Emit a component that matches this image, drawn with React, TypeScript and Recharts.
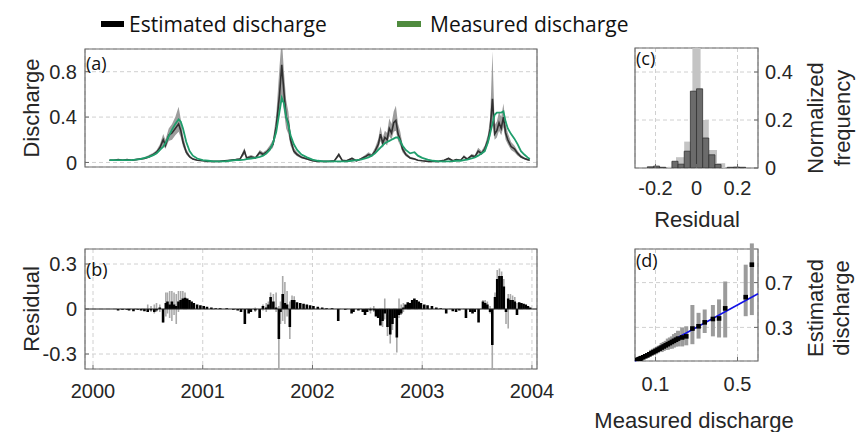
import React from 'react';
import {
  ComposedChart, Line, Area, Bar, Scatter, ErrorBar, XAxis, YAxis,
  CartesianGrid, ReferenceLine, ReferenceArea, Rectangle,
} from 'recharts';

// (a) discharge time series, time in decimal years
const timeA = [
  2000.15, 2000.19, 2000.23, 2000.27, 2000.31, 2000.35, 2000.39, 2000.43, 2000.47, 2000.51,
  2000.55, 2000.58, 2000.61, 2000.64, 2000.66, 2000.69, 2000.72, 2000.75, 2000.78, 2000.80,
  2000.82, 2000.85, 2000.88, 2000.91, 2000.95, 2001.00, 2001.05, 2001.10, 2001.15, 2001.20,
  2001.25, 2001.30, 2001.34, 2001.38, 2001.40, 2001.44, 2001.48, 2001.52, 2001.55, 2001.58,
  2001.61, 2001.64, 2001.67, 2001.70, 2001.72, 2001.74, 2001.76, 2001.78, 2001.80, 2001.83,
  2001.86, 2001.90, 2001.95, 2002.00, 2002.05, 2002.10, 2002.15, 2002.20, 2002.24, 2002.27,
  2002.31, 2002.36, 2002.40, 2002.44, 2002.48, 2002.51, 2002.54, 2002.57, 2002.60, 2002.62,
  2002.64, 2002.66, 2002.68, 2002.70, 2002.72, 2002.74, 2002.76, 2002.78, 2002.80, 2002.82,
  2002.85, 2002.89, 2002.93, 2002.96, 2003.00, 2003.05, 2003.10, 2003.15, 2003.20, 2003.24,
  2003.28, 2003.31, 2003.35, 2003.38, 2003.41, 2003.45, 2003.48, 2003.51, 2003.54, 2003.57,
  2003.60, 2003.62, 2003.64, 2003.66, 2003.68, 2003.70, 2003.72, 2003.74, 2003.76, 2003.78,
  2003.81, 2003.84, 2003.87, 2003.90, 2003.93, 2003.96, 2003.98,
];
const estimated = [
  0.02, 0.02, 0.025, 0.02, 0.025, 0.02, 0.025, 0.03, 0.035, 0.05,
  0.07, 0.09, 0.13, 0.2, 0.15, 0.24, 0.26, 0.3, 0.34, 0.28,
  0.18, 0.09, 0.05, 0.03, 0.02, 0.015, 0.01, 0.01, 0.01, 0.015,
  0.02, 0.025, 0.03, 0.1, 0.04, 0.05, 0.04, 0.09, 0.07, 0.09,
  0.12, 0.16, 0.32, 0.6, 0.86, 0.62, 0.4, 0.35, 0.2, 0.1,
  0.07, 0.045, 0.03, 0.015, 0.01, 0.01, 0.01, 0.015, 0.07, 0.02,
  0.015, 0.035, 0.015, 0.03, 0.05, 0.07, 0.06, 0.1, 0.16, 0.25,
  0.17, 0.22, 0.2, 0.3, 0.26, 0.35, 0.37, 0.25, 0.2, 0.12,
  0.07, 0.04, 0.03, 0.02, 0.015, 0.01, 0.01, 0.01, 0.02, 0.035,
  0.015, 0.025, 0.02, 0.05, 0.03, 0.06, 0.05, 0.1, 0.08, 0.12,
  0.2, 0.3, 0.56, 0.25, 0.28, 0.35, 0.3, 0.4, 0.26, 0.2,
  0.14, 0.12, 0.08, 0.05, 0.035, 0.025, 0.02,
];
const measured = [
  0.02, 0.02, 0.02, 0.02, 0.02, 0.02, 0.025, 0.03, 0.04, 0.05,
  0.065, 0.08, 0.11, 0.14, 0.17, 0.23, 0.29, 0.34, 0.38, 0.36,
  0.3, 0.18, 0.1, 0.06, 0.035, 0.02, 0.015, 0.01, 0.01, 0.01,
  0.015, 0.02, 0.02, 0.025, 0.03, 0.035, 0.04, 0.05, 0.06, 0.08,
  0.11, 0.17, 0.27, 0.45, 0.57, 0.52, 0.4, 0.33, 0.24, 0.16,
  0.11, 0.07, 0.045, 0.025, 0.015, 0.01, 0.01, 0.01, 0.01, 0.01,
  0.01, 0.015, 0.02, 0.025, 0.035, 0.045, 0.06, 0.08, 0.11, 0.13,
  0.15, 0.17, 0.18, 0.19, 0.2, 0.21, 0.22, 0.22, 0.19, 0.15,
  0.11, 0.08, 0.09, 0.06, 0.04, 0.025, 0.015, 0.01, 0.01, 0.01,
  0.012, 0.015, 0.015, 0.02, 0.025, 0.035, 0.045, 0.06, 0.08, 0.1,
  0.18, 0.26, 0.34, 0.42, 0.44, 0.44, 0.44, 0.45, 0.36, 0.3,
  0.25, 0.21, 0.16, 0.1, 0.07, 0.045, 0.03,
];
const bandLow = [
  0.015, 0.015, 0.02, 0.015, 0.02, 0.015, 0.02, 0.025, 0.03, 0.04,
  0.06, 0.075, 0.1, 0.15, 0.12, 0.19, 0.2, 0.24, 0.27, 0.22,
  0.14, 0.07, 0.04, 0.025, 0.015, 0.01, 0.008, 0.008, 0.008, 0.01,
  0.015, 0.02, 0.025, 0.07, 0.03, 0.04, 0.03, 0.07, 0.055, 0.07,
  0.1, 0.13, 0.25, 0.45, 0.6, 0.45, 0.3, 0.25, 0.15, 0.08,
  0.055, 0.035, 0.025, 0.01, 0.008, 0.008, 0.008, 0.01, 0.05, 0.015,
  0.01, 0.025, 0.01, 0.025, 0.04, 0.055, 0.05, 0.08, 0.12, 0.19,
  0.13, 0.17, 0.15, 0.23, 0.2, 0.27, 0.28, 0.19, 0.15, 0.09,
  0.055, 0.03, 0.025, 0.015, 0.01, 0.008, 0.008, 0.008, 0.015, 0.025,
  0.01, 0.02, 0.015, 0.04, 0.025, 0.045, 0.04, 0.08, 0.065, 0.095,
  0.16, 0.23, 0.38, 0.2, 0.22, 0.28, 0.24, 0.31, 0.2, 0.16,
  0.11, 0.09, 0.06, 0.04, 0.028, 0.02, 0.015,
];
const bandHigh = [
  0.025, 0.025, 0.03, 0.025, 0.03, 0.025, 0.03, 0.04, 0.045, 0.065,
  0.085, 0.11, 0.16, 0.25, 0.2, 0.3, 0.34, 0.4, 0.49, 0.38,
  0.24, 0.12, 0.065, 0.04, 0.025, 0.02, 0.013, 0.013, 0.013, 0.02,
  0.025, 0.03, 0.04, 0.13, 0.05, 0.065, 0.05, 0.11, 0.09, 0.11,
  0.15, 0.2, 0.42, 0.85, 1.1, 0.8, 0.55, 0.45, 0.27, 0.13,
  0.09, 0.055, 0.04, 0.02, 0.013, 0.013, 0.013, 0.02, 0.085, 0.025,
  0.02, 0.045, 0.02, 0.04, 0.065, 0.09, 0.075, 0.13, 0.21, 0.32,
  0.22, 0.28, 0.26, 0.39, 0.34, 0.45, 0.5, 0.34, 0.27, 0.16,
  0.09, 0.05, 0.04, 0.025, 0.02, 0.013, 0.013, 0.013, 0.025, 0.045,
  0.02, 0.03, 0.025, 0.065, 0.04, 0.075, 0.065, 0.13, 0.1, 0.15,
  0.25, 0.4, 0.98, 0.33, 0.36, 0.45, 0.4, 0.52, 0.34, 0.26,
  0.18, 0.15, 0.1, 0.065, 0.045, 0.032, 0.025,
];

// (b) residuals with their uncertainty range (null = no range drawn)
const timeB = [
  2000.23, 2000.27, 2000.31, 2000.33, 2000.37, 2000.41, 2000.44, 2000.47, 2000.5, 2000.53,
  2000.56, 2000.58, 2000.61, 2000.64, 2000.665, 2000.68, 2000.7, 2000.72, 2000.74, 2000.76,
  2000.78, 2000.8, 2000.82, 2000.84, 2000.86, 2000.88, 2000.9, 2000.92, 2000.95, 2000.98,
  2001.01, 2001.04, 2001.08, 2001.12, 2001.16, 2001.22, 2001.28, 2001.32, 2001.35, 2001.385,
  2001.42, 2001.44, 2001.48, 2001.52, 2001.55, 2001.58, 2001.6, 2001.62, 2001.645, 2001.67,
  2001.695, 2001.71, 2001.73, 2001.75, 2001.77, 2001.795, 2001.815, 2001.835, 2001.86, 2001.89,
  2001.92, 2001.95, 2001.98, 2002.01, 2002.05, 2002.09, 2002.13, 2002.18, 2002.236, 2002.3,
  2002.358, 2002.375, 2002.42, 2002.46, 2002.48, 2002.5, 2002.53, 2002.56, 2002.58, 2002.6,
  2002.62, 2002.64, 2002.66, 2002.685, 2002.71, 2002.73, 2002.75, 2002.77, 2002.79, 2002.81,
  2002.83, 2002.85, 2002.87, 2002.89, 2002.91, 2002.93, 2002.95, 2002.97, 2002.99, 2003.02,
  2003.05, 2003.09, 2003.13, 2003.17, 2003.22, 2003.28, 2003.31, 2003.34, 2003.4, 2003.44,
  2003.46, 2003.48, 2003.515, 2003.555, 2003.575, 2003.595, 2003.62, 2003.64, 2003.665, 2003.685,
  2003.705, 2003.725, 2003.745, 2003.765, 2003.785, 2003.805, 2003.825, 2003.845, 2003.865, 2003.885,
  2003.905, 2003.925, 2003.945, 2003.965, 2003.985,
];
const residual = [
  -0.01, -0.005, -0.005, -0.01, -0.015, -0.005, -0.01, -0.015, -0.02, -0.01,
  -0.02, -0.01, 0.01, -0.09, 0.04, 0.05, 0.03, 0.05, 0.03, 0.02,
  0.05, 0.06, 0.07, 0.075, 0.07, 0.06, 0.05, 0.04, 0.03, 0.025,
  0.02, 0.015, 0.01, 0.005, 0.005, 0.005, -0.005, -0.01, -0.02, -0.1,
  -0.03, -0.02, -0.01, -0.06, 0.02, 0.01, 0.03, 0.08, 0.05, 0.01,
  -0.2, -0.02, 0.1, 0.04, 0.03, -0.12, 0.06, 0.06, 0.045, 0.04,
  0.035, 0.03, 0.025, 0.02, 0.015, 0.01, 0.005, 0.005, -0.08, -0.005,
  -0.03, -0.02, -0.01, -0.02, -0.04, -0.02, -0.01, -0.01, -0.05, -0.06,
  -0.11, -0.08, -0.03, -0.12, -0.17, -0.1, -0.06, -0.19, -0.04, -0.03,
  0.01, 0.03, 0.045, 0.04, 0.06, 0.07, 0.06, 0.05, 0.04, 0.03,
  0.025, 0.02, 0.01, 0.005, -0.03, -0.015, -0.02, -0.01, -0.06, -0.02,
  -0.03, -0.02, -0.09, 0.05, 0.04, 0.03, -0.02, -0.24, 0.08, 0.2,
  0.22, 0.22, 0.15, -0.02, 0.07, 0.06, 0.06, 0.05, -0.04, 0.045,
  0.04, 0.035, 0.03, 0.02, 0.01,
];
const residualLow = [
  null, null, null, null, null, null, null, null, -0.02, -0.02,
  -0.03, -0.02, -0.02, -0.09, -0.05, -0.03, -0.06, -0.08, -0.04, -0.1,
  -0.02, 0, 0.02, 0.03, null, null, null, null, null, null,
  null, null, null, null, null, null, null, null, null, null,
  null, null, -0.02, null, -0.01, -0.02, 0, 0.04, 0, -0.02,
  -0.42, -0.1, -0.08, -0.1, -0.05, -0.2, 0.02, 0.03, null, null,
  null, null, null, null, null, null, null, null, null, null,
  null, null, null, null, null, null, -0.03, -0.02, null, null,
  null, -0.12, -0.07, -0.18, -0.23, -0.14, null, -0.29, -0.06, -0.04,
  -0.02, null, null, null, null, null, null, null, null, null,
  null, null, null, null, null, null, null, null, null, null,
  null, null, null, 0.02, 0.01, 0, -0.03, -0.42, 0.02, 0.12,
  0.15, 0.1, 0.05, -0.1, -0.13, 0.01, 0.02, 0.02, -0.04, null,
  null, null, null, null, null,
];
const residualHigh = [
  null, null, null, null, null, null, null, null, 0.03, 0.02,
  0.03, 0.04, 0.03, 0, 0.11, 0.11, 0.12, 0.12, 0.11, 0.1,
  0.12, 0.12, 0.12, 0.11, null, null, null, null, null, null,
  null, null, null, null, null, null, null, null, null, null,
  null, null, 0.01, null, 0.03, 0.04, 0.05, 0.11, 0.1, 0.11,
  0.02, 0.05, 0.22, 0.18, 0.12, 0.05, 0.09, 0.085, null, null,
  null, null, null, null, null, null, null, null, null, null,
  null, null, null, null, null, null, 0.01, 0.02, null, null,
  null, -0.04, 0.07, -0.04, -0.05, 0, null, -0.05, 0.07, 0.03,
  0.04, null, null, null, null, null, null, null, null, null,
  null, null, null, null, null, null, null, null, null, null,
  null, null, null, 0.06, 0.06, 0.05, 0.02, -0.02, 0.11, 0.26,
  0.27, 0.25, 0.2, 0, 0.1, 0.1, 0.09, 0.08, 0.04, null,
  null, null, null, null, null,
];

// (c) residual histograms
const binsDark = [-0.225, -0.195, -0.165, -0.105, -0.075, -0.045, -0.015, 0.015, 0.045, 0.075, 0.105, 0.165, 0.195, 0.225];
const freqDark = [0.005, 0.008, 0.003, 0.028, 0.016, 0.07, 0.32, 0.33, 0.125, 0.055, 0.015, 0.003, 0.004, 0.003];
const binsLight = [-0.12, -0.08, -0.04, 0, 0.04, 0.08, 0.12];
const freqLight = [0.005, 0.045, 0.11, 0.62, 0.2, 0.075, 0.02];

// (d) measured vs estimated discharge
const measuredD = [
  0.005, 0.01, 0.015, 0.02, 0.025, 0.03, 0.04, 0.05, 0.06, 0.07,
  0.08, 0.09, 0.1, 0.11, 0.12, 0.13, 0.14, 0.15, 0.16, 0.17,
  0.18, 0.19, 0.2, 0.21, 0.23, 0.25, 0.28, 0.31, 0.34, 0.38,
  0.41, 0.44, 0.54, 0.57,
];
const estimatedD = [
  0.004, 0.008, 0.012, 0.016, 0.02, 0.025, 0.033, 0.042, 0.05, 0.06,
  0.07, 0.08, 0.09, 0.1, 0.11, 0.12, 0.13, 0.14, 0.15, 0.16,
  0.17, 0.18, 0.19, 0.2, 0.21, 0.22, 0.29, 0.31, 0.345, 0.375,
  0.38, 0.47, 0.57, 0.86,
];
const lowD = [
  0.002, 0.005, 0.008, 0.01, 0.013, 0.017, 0.022, 0.03, 0.035, 0.04,
  0.05, 0.055, 0.06, 0.07, 0.08, 0.08, 0.09, 0.1, 0.1, 0.11,
  0.11, 0.12, 0.13, 0.13, 0.13, 0.14, 0.15, 0.2, 0.25, 0.22,
  0.21, 0.21, 0.4, 0.41,
];
const highD = [
  0.006, 0.012, 0.018, 0.024, 0.03, 0.035, 0.045, 0.06, 0.07, 0.08,
  0.1, 0.11, 0.12, 0.13, 0.14, 0.16, 0.17, 0.18, 0.2, 0.21,
  0.22, 0.24, 0.25, 0.27, 0.3, 0.31, 0.5, 0.43, 0.46, 0.5,
  0.55, 0.71, 0.86, 1.05,
];

const yearTicks = [2000, 2001, 2002, 2003, 2004];
const yearDomain = [1999.927, 2004.046];

const rowsA = timeA.map((t, i) => ({ t, est: estimated[i], meas: measured[i], band: [bandLow[i], bandHigh[i]] }));
const rowsB = timeB.map((t, i) => ({
  t, r: residual[i],
  range: residualLow[i] == null ? null : [residualLow[i], residualHigh[i]],
}));
const rowsC = [
  ...binsDark.map((x, i) => ({ x, dark: freqDark[i], light: null })),
  ...binsLight.map((x, i) => ({ x, dark: null, light: freqLight[i] })),
];
const rowsD = measuredD.map((x, i) => ({
  x, y: estimatedD[i], err: [estimatedD[i] - lowD[i], highD[i] - estimatedD[i]],
}));

const AX = '#6a6a6a';
const GRID = '#d0d0d0';
const TXT = '#262626';
const SANS = 'Liberation Sans, Arial, sans-serif';
const tickStyle = { fontSize: 20, fill: TXT, fontFamily: SANS };
const fmt = (v: number) => (v === 0 ? '0' : String(v));

// bar drawn with a fixed pixel width, centred on the library's slot
const fixedBar = (w: number, fill: string, key: string, stroke?: string) => (props: any) => {
  const { x, y, width, height, payload } = props;
  if (payload == null || payload[key] == null || height == null || isNaN(height)) return <g />;
  return (
    <Rectangle x={x + width / 2 - w / 2} y={y} width={w} height={height}
      fill={fill} stroke={stroke || 'none'} strokeWidth={stroke ? 0.8 : 0} />
  );
};

const mirrorX = (domain: number[], ticks: number[]) => (
  <XAxis xAxisId="top" orientation="top" type="number" domain={domain} ticks={ticks}
    allowDataOverflow tick={false} tickSize={-4} tickLine={{ stroke: AX }} axisLine={false} height={0} />
);

const App: React.FC = () => {
  return (
    <div style={{ position: 'absolute', left: 0, top: 0, width: 859, height: 432, background: '#fff', overflow: 'hidden' }}>
      {/* (a) */}
      <div style={{ position: 'absolute', left: 0, top: 40 }}>
        <ComposedChart width={545} height={140} data={rowsA} margin={{ top: 9, right: 8, bottom: 0, left: 0 }}>
          <CartesianGrid strokeDasharray="4 3" stroke={GRID} />
          <XAxis dataKey="t" type="number" domain={yearDomain} ticks={yearTicks} allowDataOverflow
            tick={false} tickSize={-4} tickLine={{ stroke: AX }} axisLine={false} height={13} />
          {mirrorX(yearDomain, yearTicks)}
          <YAxis type="number" domain={[-0.04, 1]} ticks={[0, 0.4, 0.8]} allowDataOverflow width={85}
            tick={tickStyle} tickFormatter={fmt} tickSize={-4} tickMargin={12} tickLine={{ stroke: AX }} axisLine={false} />
          <YAxis yAxisId="right" orientation="right" type="number" domain={[-0.04, 1]} ticks={[0, 0.4, 0.8]}
            allowDataOverflow width={0} tick={false} tickSize={-4} tickLine={{ stroke: AX }} axisLine={false} />
          <Area dataKey="band" type="linear" stroke="none" fill="#9d9d9d" fillOpacity={1} isAnimationActive={false} />
          <Line dataKey="est" type="linear" stroke="#303030" strokeWidth={1.6} dot={false} isAnimationActive={false} />
          <Line dataKey="meas" type="linear" stroke="#1f9e6c" strokeWidth={1.8} dot={false} isAnimationActive={false} />
          <ReferenceArea x1={yearDomain[0]} x2={yearDomain[1]} y1={-0.04} y2={1} fill="none" stroke={AX} strokeWidth={1.2} />
        </ComposedChart>
      </div>

      {/* (b) */}
      <div style={{ position: 'absolute', left: 0, top: 240 }}>
        <ComposedChart width={560} height={174} data={rowsB} margin={{ top: 9, right: 23, bottom: 0, left: 0 }}>
          <CartesianGrid strokeDasharray="4 3" stroke={GRID} />
          <XAxis dataKey="t" type="number" domain={yearDomain} ticks={yearTicks} allowDataOverflow
            tick={tickStyle} tickFormatter={(v: number) => String(v)} tickSize={-4} tickMargin={19}
            tickLine={{ stroke: AX }} axisLine={false} height={45} />
          <XAxis xAxisId="g" dataKey="t" type="number" domain={yearDomain} allowDataOverflow hide />
          {mirrorX(yearDomain, yearTicks)}
          <YAxis type="number" domain={[-0.4, 0.4]} ticks={[-0.3, 0, 0.3]} allowDataOverflow width={85}
            tick={tickStyle} tickFormatter={fmt} tickSize={-4} tickMargin={12} tickLine={{ stroke: AX }} axisLine={false} />
          <YAxis yAxisId="right" orientation="right" type="number" domain={[-0.4, 0.4]} ticks={[-0.3, 0, 0.3]}
            allowDataOverflow width={0} tick={false} tickSize={-4} tickLine={{ stroke: AX }} axisLine={false} />
          <Bar xAxisId="g" dataKey="range" shape={fixedBar(1.6, '#a9a9a9', 'range')} isAnimationActive={false} />
          <Bar dataKey="r" shape={fixedBar(2.6, '#000', 'r')} isAnimationActive={false} />
          <ReferenceLine y={0} stroke="#222" strokeWidth={1} />
          <ReferenceArea x1={yearDomain[0]} x2={yearDomain[1]} y1={-0.4} y2={0.4} fill="none" stroke={AX} strokeWidth={1.2} />
        </ComposedChart>
      </div>

      {/* (c) */}
      <div style={{ position: 'absolute', left: 620, top: 40 }}>
        <ComposedChart width={198} height={168} data={rowsC} margin={{ top: 8, right: 0, bottom: 0, left: 15 }}>
          <CartesianGrid strokeDasharray="4 3" stroke={GRID} />
          <XAxis dataKey="x" type="number" domain={[-0.3, 0.3]} ticks={[-0.2, 0, 0.2]} allowDataOverflow
            tick={tickStyle} tickFormatter={fmt} tickSize={-4} tickMargin={17} tickLine={{ stroke: AX }} axisLine={false} height={40} />
          <XAxis xAxisId="l" dataKey="x" type="number" domain={[-0.3, 0.3]} allowDataOverflow hide />
          {mirrorX([-0.3, 0.3], [-0.2, 0, 0.2])}
          <YAxis orientation="right" type="number" domain={[0, 0.5]} ticks={[0, 0.2, 0.4]} allowDataOverflow width={60}
            tick={{ ...tickStyle, textAnchor: 'start' }} tickFormatter={fmt} tickSize={-4} tickMargin={11}
            tickLine={{ stroke: AX }} axisLine={false} />
          <YAxis yAxisId="left" orientation="left" type="number" domain={[0, 0.5]} ticks={[0, 0.2, 0.4]}
            allowDataOverflow width={0} tick={false} tickSize={-4} tickLine={{ stroke: AX }} axisLine={false} />
          <Bar xAxisId="l" dataKey="light" shape={fixedBar(8.2, '#c4c4c4', 'light')} isAnimationActive={false} />
          <Bar dataKey="dark" shape={fixedBar(6.1, '#6b6b6b', 'dark', '#333')} isAnimationActive={false} />
          <ReferenceArea x1={-0.3} x2={0.3} y1={0} y2={0.5} fill="none" stroke={AX} strokeWidth={1.2} />
        </ComposedChart>
      </div>

      {/* (d) */}
      <div style={{ position: 'absolute', left: 620, top: 240 }}>
        <ComposedChart width={198} height={171} data={rowsD} margin={{ top: 9, right: 0, bottom: 0, left: 15 }}>
          <CartesianGrid strokeDasharray="4 3" stroke={GRID} />
          <XAxis dataKey="x" type="number" domain={[0, 0.6]} ticks={[0.1, 0.5]} allowDataOverflow
            tick={tickStyle} tickFormatter={fmt} tickSize={-4} tickMargin={20} tickLine={{ stroke: AX }} axisLine={false} height={50} />
          {mirrorX([0, 0.6], [0.1, 0.5])}
          <YAxis orientation="right" type="number" domain={[0, 1]} ticks={[0.3, 0.7]} allowDataOverflow width={60}
            tick={{ ...tickStyle, textAnchor: 'start' }} tickFormatter={fmt} tickSize={-4} tickMargin={11}
            tickLine={{ stroke: AX }} axisLine={false} />
          <YAxis yAxisId="left" orientation="left" type="number" domain={[0, 1]} ticks={[0.3, 0.7]}
            allowDataOverflow width={0} tick={false} tickSize={-4} tickLine={{ stroke: AX }} axisLine={false} />
          <Scatter dataKey="y" isAnimationActive={false}
            shape={(p: any) => <rect x={p.cx - 2.3} y={p.cy - 2.3} width={4.6} height={4.6} fill="#000" />}>
            <ErrorBar dataKey="err" direction="y" width={0} stroke="#9b9b9b" strokeWidth={4} />
          </Scatter>
          <ReferenceLine segment={[{ x: 0, y: 0 }, { x: 0.6, y: 0.6 }]} stroke="#1212e6" strokeWidth={1.6} />
          <ReferenceArea x1={0} x2={0.6} y1={0} y2={1} fill="none" stroke={AX} strokeWidth={1.2} />
        </ComposedChart>
      </div>

      {/* legend, titles and panel tags */}
      <svg width={859} height={432} style={{ position: 'absolute', left: 0, top: 0, pointerEvents: 'none' }}>
        <g fontFamily="Open Sans, sans-serif" fontSize={21} fill="#111">
          <line x1={101} x2={124} y1={24} y2={24} stroke="#000" strokeWidth={6} />
          <text x={129} y={24} dominantBaseline="central">Estimated discharge</text>
          <line x1={397} x2={421} y1={24} y2={24} stroke="#4f8b3e" strokeWidth={6} />
          <text x={430} y={24} dominantBaseline="central">Measured discharge</text>
        </g>
        <g fontFamily={SANS} fontSize={22} fill={TXT} textAnchor="middle" dominantBaseline="central">
          <text transform="translate(31,108) rotate(-90)">Discharge</text>
          <text transform="translate(31,309) rotate(-90)">Residual</text>
          <text transform="translate(815,118) rotate(-90)">Normalized</text>
          <text transform="translate(842,118) rotate(-90)">frequency</text>
          <text x={697} y={219}>Residual</text>
          <text transform="translate(815,308) rotate(-90)">Estimated</text>
          <text transform="translate(841,308) rotate(-90)">discharge</text>
          <text x={694} y={420}>Measured discharge</text>
        </g>
        <g fontFamily="Open Sans, sans-serif" fontSize={18} fill="#111">
          <text x={86} y={70}>(a)</text>
          <text x={86} y={276}>(b)</text>
          <text x={636} y={65}>(c)</text>
          <text x={636} y={267}>(d)</text>
        </g>
      </svg>
    </div>
  );
};

export default App;
